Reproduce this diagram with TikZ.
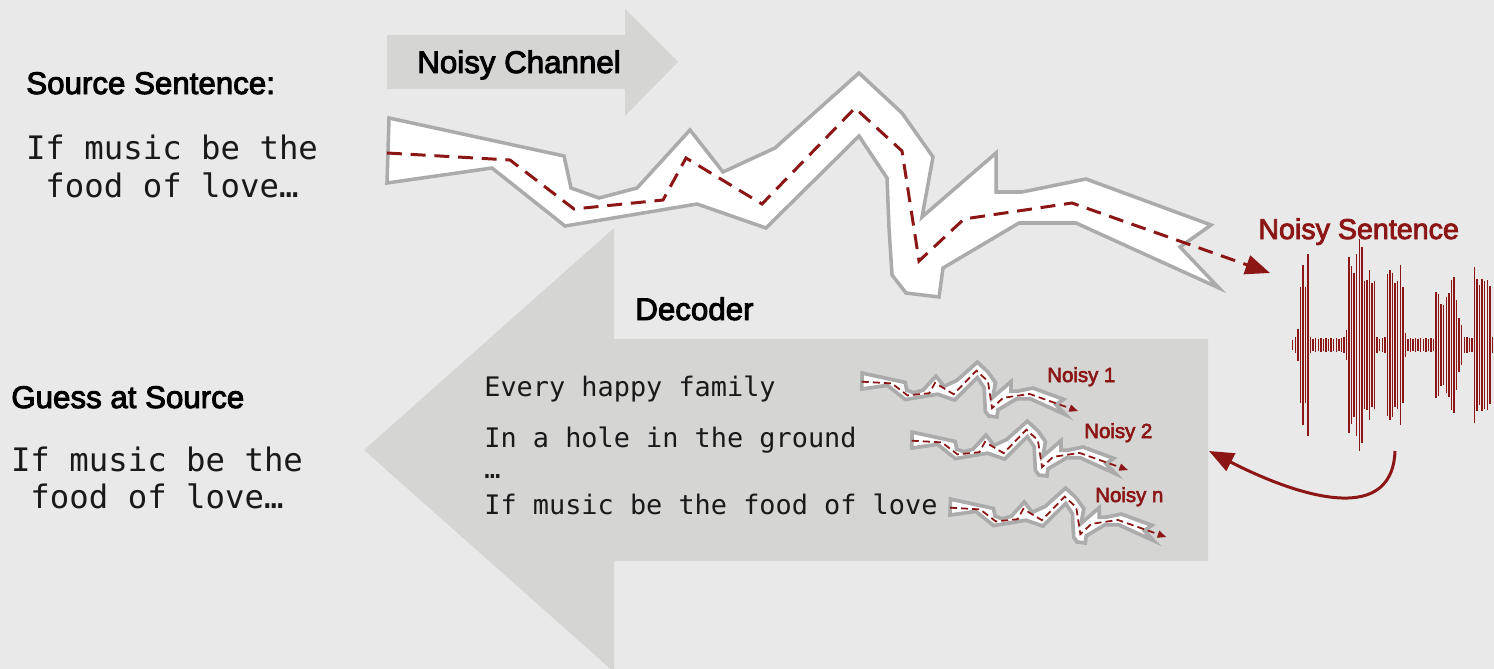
\documentclass[tikz,border=0pt]{standalone}
\usepackage{fontspec}
\setmainfont{Liberation Sans}
\newfontfamily\headfont[FakeBold=3]{Liberation Sans}
\newfontfamily\codefont{DejaVu Sans Mono}
\usetikzlibrary{arrows.meta}

\definecolor{slidebg}{HTML}{E9E9E9}
\definecolor{arrowgray}{HTML}{D5D5D4}
\definecolor{edgegray}{HTML}{ABABAB}
\definecolor{cardinal}{HTML}{8C1515}

% outline of the noisy channel band and the signal running through it
\newcommand{\bandoutline}{(389,118) -- (564,156) -- (571,188) -- (599,198) -- (637,188)
  -- (690,130) -- (723,172) -- (775,148) -- (859,73) -- (902,113) -- (933,157)
  -- (922,217) -- (996,153) -- (996,192) -- (1022,192) -- (1086,179) -- (1211,225)
  -- (1180,247) -- (1219,288) -- (1076,223) -- (1019,223) -- (943,268) -- (939,297)
  -- (906,293) -- (892,275) -- (889,228) -- (887,178) -- (859,136) -- (766,228)
  -- (697,204) -- (565,226) -- (492,168) -- (387,183) -- cycle}
\newcommand{\bandsignal}{(387,153) -- (510,160) -- (574,209) -- (663,200) -- (686,158)
  -- (762,204) -- (855,108) -- (902,151) -- (919,261) -- (964,219) -- (1072,203)
  -- (1270,273)}

\tikzset{
  heading/.style={font=\headfont\fontsize{17.8}{21}\selectfont, anchor=base west, inner sep=0pt},
  srccode/.style={font=\codefont\fontsize{18.4}{21}\selectfont, anchor=base, inner sep=0pt, text=black!90},
  deccode/.style={font=\codefont\fontsize{15.3}{18}\selectfont, anchor=base west, inner sep=0pt, text=black!90},
  redlabel/.style={text=cardinal, anchor=base west, inner sep=0pt},
  blockarrow/.style={fill=arrowgray, draw=none},
  band/.style={fill=white, draw=edgegray, line width=2pt},
  signal/.style={draw=cardinal, line width=1.7pt, dash pattern=on 8.5pt off 5pt,
    -{Triangle[length=14pt,width=11pt]}},
  smallband/.style={fill=white, draw=edgegray, line width=2.1pt},
  smallsignal/.style={draw=cardinal, line width=1pt, dash pattern=on 4pt off 2.3pt,
    -{Triangle[length=5pt,width=4pt]}},
  wavebar/.style={draw=cardinal, line width=0.8pt},
  feedback/.style={draw=cardinal, line width=1.7pt, -{Triangle[length=14pt,width=11pt]}}
}

\begin{document}
\begin{tikzpicture}[x=0.02cm, y=-0.02cm]
\useasboundingbox (0,0) rectangle (1494,669);
\fill[slidebg] (0,0) rectangle (1494,669);
\clip (0,0) rectangle (1494,669);

% block arrows
\fill[blockarrow] (364,450) -- (614,228) -- (614,339) -- (1208,339) -- (1208,561)
  -- (614,561) -- (614,672) -- cycle;
\fill[blockarrow] (387,35) -- (625,35) -- (625,9) -- (678,62) -- (625,116) -- (625,89)
  -- (387,89) -- cycle;

% channel band
\draw[band] \bandoutline;
\draw[signal] \bandsignal;

% waveform of the noisy sentence
\foreach \h [count=\i from 0] in {5,8,16,58,80,58,91,8,6,7,6,7,6,7,6,7,6,7,6,7,8,15,88,79,72,91,106,98,64,65,75,62,64,8,6,7,8,71,75,72,62,64,80,58,12,6,7,6,7,6,7,6,7,6,7,6,53,51,41,40,48,52,65,68,45,27,20,8,8,7,7,78,66,60,66,64,65,59,8}
  \draw[wavebar] (1292.7+2.56*\i,345-\h) -- (1292.7+2.56*\i,345+\h);

% labels
\node[heading] (srchead) at (26,94) {Source Sentence:};
\node[srccode] (srcline1) at (172,159) {If music be the};
\node[srccode] (srcline2) at (172,197) {food of love…};
\node[heading] (chanhead) at (417,73) {Noisy Channel};
\node[redlabel, font=\headfont\fontsize{16.3}{19}\selectfont] (noisyhead) at (1258,239) {Noisy Sentence};
\node[heading] (dechead) at (635,320) {Decoder};
\node[heading] (guesshead) at (11,408) {Guess at Source};
\node[srccode] (guessline1) at (157,471) {If music be the};
\node[srccode] (guessline2) at (157,508) {food of love…};

% candidate sentences
\node[deccode] (cand1) at (484,396) {Every happy family};
\node[deccode] (cand2) at (484,447) {In a hole in the ground};
\node[deccode] (canddots) at (484,478) {…};
\node[deccode] (candn) at (484,514) {If music be the food of love};

% each candidate sent through a small channel
\foreach \dx/\dy in {766.9/344.2, 816.9/403.2, 855.2/470.2} {
  \begin{scope}[shift={(\dx,\dy)}, scale=0.245]
    \draw[smallband] \bandoutline;
    \draw[smallsignal] \bandsignal;
  \end{scope}
}
\node[redlabel, font=\headfont\fontsize{11.6}{14}\selectfont] (noisy1) at (1047,382) {Noisy 1};
\node[redlabel, font=\headfont\fontsize{11.6}{14}\selectfont] (noisy2) at (1084,438) {Noisy 2};
\node[redlabel, font=\headfont\fontsize{11.6}{14}\selectfont] (noisyn) at (1095,502) {Noisy n};

% noisy sentence handed back to the decoder
\coordinate (wavefoot) at (1395,451);
\coordinate (decin) at (1209,451);
\draw[feedback] (wavefoot) .. controls +(-3,80) and +(78,40) .. (decin);
\end{tikzpicture}
\end{document}
